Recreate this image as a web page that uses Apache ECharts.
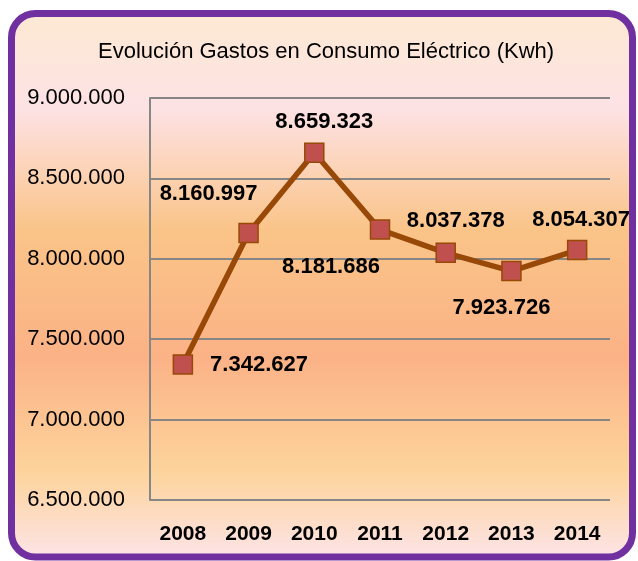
<!DOCTYPE html>
<html>
<head>
<meta charset="utf-8">
<script src="https://cdn.jsdelivr.net/npm/echarts@6/dist/echarts.min.js"></script>
<style>
  html, body { margin: 0; padding: 0; background: #fff; }
  #main { width: 638px; height: 561px; }
</style>
</head>
<body>
<div id="main"></div>
<script>
// 数据
var years = ['2008', '2009', '2010', '2011', '2012', '2013', '2014'];
var consumo = [7342627, 8160997, 8659323, 8181686, 8037378, 7923726, 8054307];

var FONT = "'Liberation Sans', Arial, sans-serif";

// 千位分隔 (es)
function fmt(v) {
    return String(v).replace(/\B(?=(\d{3})+(?!\d))/g, '.');
}

// 每个点的标签位置
var labelCfg = [
    { position: 'right', distance: 17 },
    { position: 'top', offset: [-40, -13] },
    { position: 'top', offset: [10, -5] },
    { position: 'bottom', offset: [-49, 11] },
    { position: 'top', offset: [10, -6] },
    { position: 'bottom', offset: [-10, 11] },
    { position: 'top', offset: [4, -4] }
];

var myChart = echarts.init(document.getElementById('main'));
var option = {
    backgroundColor: '#fff',
    animation: false,
    graphic: [{
        type: 'rect',
        z: -10,
        silent: true,
        shape: { x: 11.5, y: 13.5, width: 621, height: 543.5, r: 24 },
        style: {
            fill: new echarts.graphic.LinearGradient(0, 0, 0, 1, [
                { offset: 0, color: '#fce9d2' },
                { offset: 0.18, color: '#fde2e4' },
                { offset: 0.4, color: '#fac488' },
                { offset: 0.63, color: '#fbb286' },
                { offset: 0.84, color: '#fdd49c' },
                { offset: 1, color: '#fde4ea' }
            ]),
            stroke: '#7030a0',
            lineWidth: 7
        }
    }],
    title: {
        text: 'Evolución Gastos en Consumo Eléctrico (Kwh)',
        left: 93,
        top: 36,
        textStyle: {
            fontFamily: FONT,
            fontWeight: 'normal',
            fontSize: 22,
            color: '#000'
        }
    },
    grid: { left: 150, right: 28, top: 98, bottom: 61 },
    xAxis: {
        type: 'category',
        data: years,
        axisLine: { show: false },
        axisTick: { show: false },
        axisLabel: {
            margin: 24,
            fontFamily: FONT,
            fontWeight: 'bold',
            fontSize: 21,
            color: '#000'
        }
    },
    yAxis: {
        type: 'value',
        min: 6500000,
        max: 9000000,
        interval: 500000,
        axisLine: { show: true, lineStyle: { color: '#868686', width: 2 } },
        axisTick: { show: false },
        splitLine: { lineStyle: { color: '#868686', width: 2 } },
        axisLabel: {
            margin: 25,
            fontFamily: FONT,
            fontSize: 22,
            color: '#000',
            formatter: fmt
        }
    },
    series: [{
        type: 'line',
        data: consumo.map(function(v, i) {
            return { value: v, label: labelCfg[i] };
        }),
        symbol: 'rect',
        symbolSize: 19,
        lineStyle: { color: '#984807', width: 5.5 },
        itemStyle: { color: '#c0504d', borderColor: '#984807', borderWidth: 1.5 },
        label: {
            show: true,
            fontFamily: FONT,
            fontWeight: 'bold',
            fontSize: 22,
            color: '#000',
            formatter: function(p) { return fmt(p.value); }
        }
    }]
};
myChart.setOption(option);
</script>
</body>
</html>
